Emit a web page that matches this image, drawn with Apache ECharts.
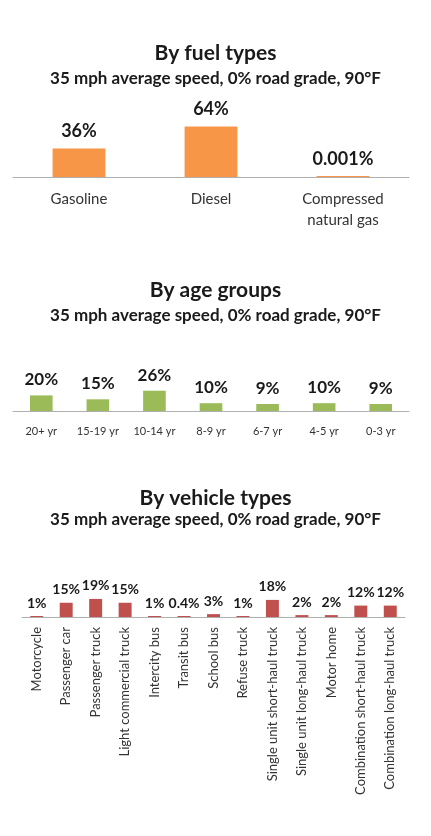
<!DOCTYPE html>
<html>
  <head>
    <meta charset="utf-8" />
    <title>ECharts</title>
    <script src="https://cdn.jsdelivr.net/npm/echarts@6/dist/echarts.min.js"></script>
    <style>
      html, body { margin: 0; padding: 0; background: #fff; }
    </style>
  </head>
  <body>
    <div id="main" style="width: 431px;height:836px;"></div>
    <script>
        // data
        var fuelTypes = ['Gasoline', 'Diesel', 'Compressed\nnatural gas'];
        var fuelValues = [36, 64, 0.001];
        var fuelLabels = ['36%', '64%', '0.001%'];

        var ageGroups = ['20+ yr', '15-19 yr', '10-14 yr', '8-9 yr', '6-7 yr', '4-5 yr', '0-3 yr'];
        var ageValues = [20, 15, 26, 10, 9, 10, 9];
        var ageLabels = ['20%', '15%', '26%', '10%', '9%', '10%', '9%'];

        var vehicleTypes = ['Motorcycle', 'Passenger car', 'Passenger truck', 'Light commercial truck',
          'Intercity bus', 'Transit bus', 'School bus', 'Refuse truck', 'Single unit short-haul truck',
          'Single unit long-haul truck', 'Motor home', 'Combination short-haul truck', 'Combination long-haul truck'];
        var vehicleValues = [1, 15, 19, 15, 1, 0.4, 3, 1, 18, 2, 2, 12, 12];
        var vehicleLabels = ['1%', '15%', '19%', '15%', '1%', '0.4%', '3%', '1%', '18%', '2%', '2%', '12%', '12%'];

        var subtitle = '35 mph average speed, 0% road grade, 90°F';
        var font = 'Lato, "Open Sans", sans-serif';

        var myChart = echarts.init(document.getElementById('main'));

        function titleItem(text, top, size) {
          return {
            text: text,
            left: 'center',
            top: top,
            textStyle: { fontFamily: font, fontSize: size, fontWeight: 'bold', color: '#1a1a1a' }
          };
        }

        function xAxisItem(idx, data, fontSize, margin, rotate) {
          return {
            type: 'category',
            gridIndex: idx,
            data: data,
            axisTick: { show: false },
            axisLine: { lineStyle: { color: '#b0b0b0', width: 1 } },
            axisLabel: {
              fontFamily: font,
              fontSize: fontSize,
              color: '#333',
              margin: margin,
              rotate: rotate || 0,
              interval: 0,
              lineHeight: 21
            }
          };
        }

        function yAxisItem(idx) {
          return { type: 'value', gridIndex: idx, min: 0, max: 100, show: false };
        }

        function seriesItem(idx, values, labels, color, width, fontSize, dist) {
          return {
            type: 'bar',
            xAxisIndex: idx,
            yAxisIndex: idx,
            data: values,
            barWidth: width,
            barMinHeight: 1,
            itemStyle: { color: color },
            label: {
              show: true,
              position: 'top',
              distance: dist,
              fontFamily: font,
              fontSize: fontSize,
              fontWeight: 'bold',
              color: '#1a1a1a',
              formatter: function (p) { return labels[p.dataIndex]; }
            }
          };
        }

        var option = {
          animation: false,
          title: [
            titleItem('By fuel types', 38, 21),
            titleItem(subtitle, 65, 17),
            titleItem('By age groups', 275, 21),
            titleItem(subtitle, 302, 17),
            titleItem('By vehicle types', 483, 21),
            titleItem(subtitle, 506, 17)
          ],
          grid: [
            { left: 13, right: 22, top: 98, height: 79 },
            { left: 13, right: 22, top: 333, height: 78 },
            { left: 22, right: 26, top: 522, height: 95 }
          ],
          xAxis: [
            xAxisItem(0, fuelTypes, 15, 12),
            xAxisItem(1, ageGroups, 11, 10),
            xAxisItem(2, vehicleTypes, 13, 10, 90)
          ],
          yAxis: [yAxisItem(0), yAxisItem(1), yAxisItem(2)],
          series: [
            seriesItem(0, fuelValues, fuelLabels, '#f79646', '40%', 18, 8),
            seriesItem(1, ageValues, ageLabels, '#9bbb59', '40%', 17, 7),
            seriesItem(2, vehicleValues, vehicleLabels, '#c0504d', '44%', 14, 6)
          ]
        };

        myChart.setOption(option);
    </script>
  </body>
</html>
